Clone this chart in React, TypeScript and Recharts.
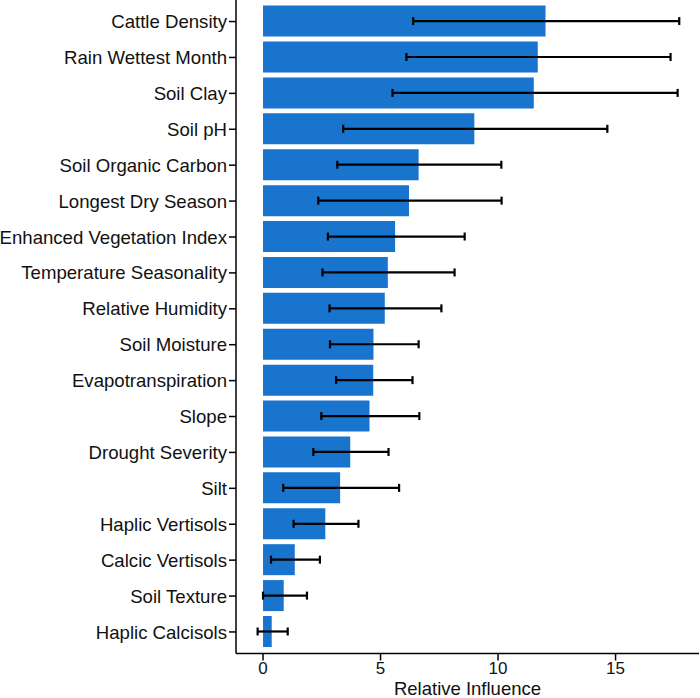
import React from 'react';
import { BarChart, Bar, XAxis, YAxis, ErrorBar, Label } from 'recharts';

const variables = [
  'Cattle Density',
  'Rain Wettest Month',
  'Soil Clay',
  'Soil pH',
  'Soil Organic Carbon',
  'Longest Dry Season',
  'Enhanced Vegetation Index',
  'Temperature Seasonality',
  'Relative Humidity',
  'Soil Moisture',
  'Evapotranspiration',
  'Slope',
  'Drought Severity',
  'Silt',
  'Haplic Vertisols',
  'Calcic Vertisols',
  'Soil Texture',
  'Haplic Calcisols',
];

const influence = [12.02, 11.69, 11.52, 8.99, 6.62, 6.21, 5.62, 5.31, 5.18, 4.7, 4.69, 4.53, 3.71, 3.28, 2.65, 1.35, 0.88, 0.37];
const lower = [6.39, 6.1, 5.51, 3.41, 3.16, 2.35, 2.76, 2.53, 2.83, 2.85, 3.11, 2.48, 2.14, 0.86, 1.3, 0.34, 0.0, -0.23];
const upper = [17.71, 17.34, 17.64, 14.65, 10.14, 10.15, 8.58, 8.15, 7.59, 6.62, 6.36, 6.65, 5.34, 5.79, 4.06, 2.42, 1.87, 1.05];

const xTicks = [0, 5, 10, 15];

const data = variables.map((name, i) => ({
  name,
  value: influence[i],
  err: [influence[i] - lower[i], upper[i] - influence[i]],
}));

const font = '"Liberation Sans", Arial, sans-serif';

export default function App() {
  return (
    <div style={{ position: 'absolute', left: 0, top: 0 }}>
      <BarChart
        width={700}
        height={698}
        data={data}
        layout="vertical"
        margin={{ top: 0, right: 1, bottom: 0, left: 0 }}
        style={{ fontFamily: font }}
      >
        <XAxis
          type="number"
          domain={[-1.15, 18.55]}
          ticks={xTicks}
          height={44.5}
          tickSize={7}
          tickMargin={1}
          tick={{ fontSize: 17, fill: '#111' }}
          axisLine={{ stroke: '#000', strokeWidth: 1.5 }}
          tickLine={{ stroke: '#000', strokeWidth: 1.5 }}
        >
          <Label value="Relative Influence" position="insideBottom" offset={3} style={{ fontSize: 18.5, fill: '#111' }} />
        </XAxis>
        <YAxis
          type="category"
          dataKey="name"
          width={236}
          padding={{ top: 3.6, bottom: 3.6 }}
          tickSize={7}
          tickMargin={2}
          tick={{ fontSize: 18.6, fill: '#111' }}
          axisLine={{ stroke: '#000', strokeWidth: 1.5 }}
          tickLine={{ stroke: '#000', strokeWidth: 1.5 }}
          interval={0}
        />
        <Bar dataKey="value" fill="#1874CD" barSize={31} isAnimationActive={false}>
          <ErrorBar dataKey="err" direction="x" width={4} stroke="#000" strokeWidth={2.2} />
        </Bar>
      </BarChart>
    </div>
  );
}
